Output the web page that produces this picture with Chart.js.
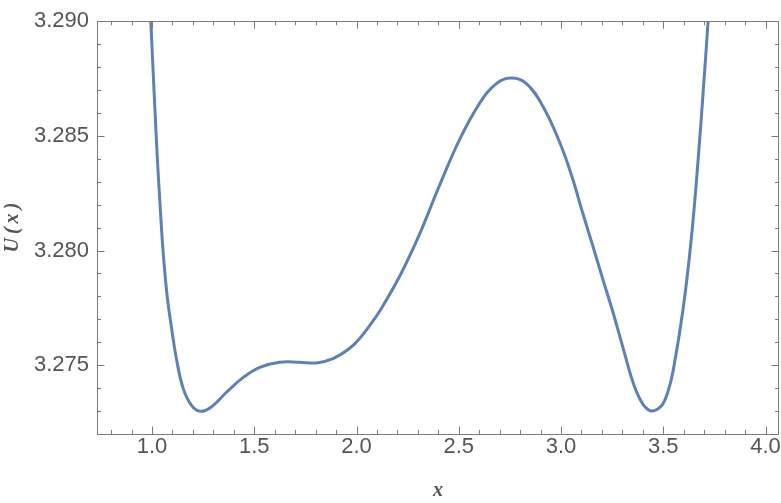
<!DOCTYPE html>
<html>
<head>
<meta charset="utf-8">
<script src="https://cdn.jsdelivr.net/npm/chart.js@4/dist/chart.umd.min.js"></script>
<style>
  html, body { margin: 0; padding: 0; background: #fff; }
  #wrap { width: 781px; height: 503px; position: relative; }
</style>
</head>
<body>
<div id="wrap"><canvas id="potentialChart"></canvas></div>
<script>
// values
const xValues = [
    0.989, 0.994, 1.013, 1.025, 1.038, 1.054, 1.073, 1.095, 1.119, 1.152, 1.193, 1.238,
    1.290, 1.364, 1.445, 1.527, 1.624, 1.722, 1.804, 1.885, 1.967, 2.016, 2.065, 2.113,
    2.211, 2.309, 2.407, 2.505, 2.602, 2.684, 2.757, 2.831, 2.912, 2.994, 3.051, 3.108,
    3.157, 3.205, 3.254, 3.303, 3.344, 3.372, 3.401, 3.425, 3.447, 3.475, 3.499, 3.523,
    3.548, 3.597, 3.638, 3.670, 3.698, 3.719, 3.723
];
const uValues = [
    3.2910, 3.2900, 3.2864, 3.2842, 3.2822, 3.2800, 3.2781, 3.27665, 3.2753, 3.2740, 3.27325, 3.27299,
    3.27318, 3.27382, 3.27446, 3.27491, 3.27513, 3.27513, 3.27510, 3.27529, 3.27574, 3.27617, 3.27674, 3.27735,
    3.27888, 3.28073, 3.28286, 3.28486, 3.28642, 3.28728, 3.28752, 3.28728, 3.28628, 3.28471, 3.28329, 3.28158,
    3.28016, 3.27873, 3.27731, 3.27577, 3.27447, 3.27378, 3.27329, 3.27307, 3.27300, 3.27310, 3.27332, 3.27385,
    3.27474, 3.27745, 3.28059, 3.28390, 3.28728, 3.29000, 3.2910
];
const xTickLabels = [1.0, 1.5, 2.0, 2.5, 3.0, 3.5, 4.0];
const yTickLabels = [3.275, 3.280, 3.285, 3.290];

const xMinorStep = 0.1;
const yMinorStep = 0.001;

const frameColor = '#7a7a7a';
const textColor = '#555555';

// Mathematica-style frame with inward ticks on all four sides
const frameTicks = {
    id: 'frameTicks',
    afterDraw(chart) {
        const { ctx, chartArea: a, scales: { x, y } } = chart;
        ctx.save();
        ctx.strokeStyle = frameColor;
        ctx.lineWidth = 1;
        ctx.strokeRect(Math.round(a.left) + 0.5, Math.round(a.top) + 0.5,
            Math.round(a.right - a.left) - 1, Math.round(a.bottom - a.top));

        const isMajor = (v, list) => list.some(t => Math.abs(t - v) < 1e-9);
        ctx.beginPath();
        for (let i = Math.ceil(x.min / xMinorStep); i * xMinorStep <= x.max; i++) {
            const v = +(i * xMinorStep).toFixed(4);
            const len = isMajor(v, xTickLabels) ? 7.5 : 4;
            const px = Math.round(x.getPixelForValue(v)) + 0.5;
            ctx.moveTo(px, a.bottom); ctx.lineTo(px, a.bottom - len);
            ctx.moveTo(px, a.top); ctx.lineTo(px, a.top + len);
        }
        for (let i = Math.ceil(y.min / yMinorStep - 1e-6); i * yMinorStep <= y.max + 1e-9; i++) {
            const v = +(i * yMinorStep).toFixed(4);
            const len = isMajor(v, yTickLabels) ? 7.5 : 4;
            const py = Math.round(y.getPixelForValue(v)) + 0.5;
            ctx.moveTo(a.left, py); ctx.lineTo(a.left + len, py);
            ctx.moveTo(a.right, py); ctx.lineTo(a.right - len, py);
        }
        ctx.stroke();
        ctx.restore();
    }
};

const tickFont = { family: "'Liberation Sans', Arial, sans-serif", size: 22 };
const labelFont = { family: "'Liberation Serif', 'Times New Roman', serif", size: 20, style: 'italic', weight: 'bold' };

new Chart(document.getElementById('potentialChart'), {
    type: 'scatter',
    data: {
        datasets: [{
            label: 'U(x)',
            data: xValues.map((v, i) => ({ x: v, y: uValues[i] })),
            showLine: true,
            borderColor: '#5E81B5',
            borderWidth: 3,
            pointRadius: 0,
            tension: 0.4,
            clip: 0
        }]
    },
    options: {
        responsive: true,
        maintainAspectRatio: false,
        animation: false,
        layout: { padding: { top: 13, right: 2, left: 0, bottom: 0 } },
        plugins: { legend: { display: false }, tooltip: { enabled: false } },
        scales: {
            x: {
                type: 'linear',
                min: 0.731,
                max: 4.066,
                grid: { display: false, drawTicks: false },
                border: { display: false },
                afterBuildTicks: s => { s.ticks = xTickLabels.map(v => ({ value: v })); },
                afterFit: s => { s.height = 69; },
                ticks: {
                    color: textColor,
                    font: tickFont,
                    padding: 0,
                    maxRotation: 0,
                    callback: v => Number(v).toFixed(1)
                },
                title: { display: true, text: 'x', color: textColor, font: labelFont, padding: 0 }
            },
            y: {
                type: 'linear',
                min: 3.2720,
                max: 3.2900,
                grid: { display: false, drawTicks: false },
                border: { display: false },
                afterBuildTicks: s => { s.ticks = yTickLabels.map(v => ({ value: v })); },
                afterFit: s => { s.width = 97; },
                ticks: {
                    color: textColor,
                    font: tickFont,
                    padding: 8,
                    callback: v => Number(v).toFixed(3)
                },
                title: { display: true, text: 'U\u2009(\u2009x\u2009)', color: textColor, font: labelFont, padding: { top: 1 } }
            }
        }
    },
    plugins: [frameTicks]
});
</script>
</body>
</html>
